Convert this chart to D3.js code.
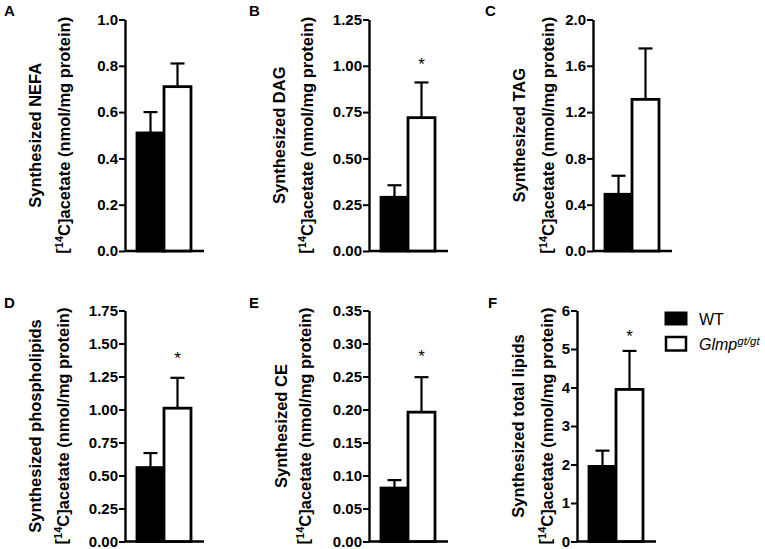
<!DOCTYPE html>
<html>
<head>
  <script src="https://d3js.org/d3.v7.min.js"></script>
  <style>
    body { margin: 0; background: #fff; }
    text { font-family: "Liberation Sans", Arial, sans-serif; }
  </style>
</head>
<body>
<div id="chart"></div>
<script>
  // values
  const panelLetters = ["A", "B", "C", "D", "E", "F"];
  const titles = ["Synthesized NEFA", "Synthesized DAG", "Synthesized TAG",
                  "Synthesized phospholipids", "Synthesized CE", "Synthesized total lipids"];
  const groups = ["WT", "Glmp"];
  const wtMean = [0.51, 0.29, 0.49, 0.56, 0.081, 1.95];
  const wtSem  = [0.09, 0.065, 0.16, 0.11, 0.012, 0.41];
  const koMean = [0.71, 0.72, 1.31, 1.01, 0.196, 3.95];
  const koSem  = [0.10, 0.19, 0.44, 0.23, 0.053, 1.0];
  const yMax = [1.0, 1.25, 2.0, 1.75, 0.35, 6];
  const tickStep = [0.2, 0.25, 0.4, 0.25, 0.05, 1];
  const tickFormat = [".1f", ".2f", ".1f", ".2f", ".2f", "d"];
  const starAt = [null, 1.03, null, 1.42, 0.287, 5.43];

  // layout of each panel (pixels)
  const layout = [
    { ax: 125, top: 19.5, bottom: 251, letterX: 4, l1: 35, l2: 62 },
    { ax: 369, top: 19.5, bottom: 251, letterX: 249, l1: 279, l2: 305 },
    { ax: 593, top: 19.5, bottom: 251, letterX: 485, l1: 519, l2: 546 },
    { ax: 125, top: 310.5, bottom: 541.5, letterX: 4, l1: 35, l2: 61 },
    { ax: 369, top: 310.5, bottom: 541.5, letterX: 249, l1: 281, l2: 303 },
    { ax: 577, top: 310.5, bottom: 541.5, letterX: 488, l1: 518, l2: 545 }
  ];

  const width = 765, height = 549;
  const svg = d3.select("#chart").append("svg")
    .attr("width", width).attr("height", height);

  panelLetters.forEach((letter, i) => {
    const L = layout[i];
    const g = svg.append("g").attr("transform", `translate(${L.ax},0)`);

    const y = d3.scaleLinear().domain([0, yMax[i]]).range([L.bottom, L.top]);
    const x = d3.scaleBand().domain(groups).range([12, 66]).padding(0);

    const ticks = d3.range(0, yMax[i] + tickStep[i] / 2, tickStep[i]);
    const yAxis = d3.axisLeft(y).tickValues(ticks).tickFormat(d3.format(tickFormat[i]))
      .tickSize(6).tickPadding(1).tickSizeOuter(0);
    const ag = g.append("g").call(yAxis);
    ag.select(".domain").attr("stroke-width", 2.4).attr("stroke", "#000");
    ag.selectAll(".tick line").attr("stroke-width", 2).attr("stroke", "#000");
    ag.selectAll(".tick text").attr("font-size", "15px").attr("font-weight", "bold")
      .attr("fill", "#000").attr("font-family", "'Liberation Sans', Arial, sans-serif");

    // x axis line
    g.append("line").attr("x1", 0).attr("x2", 79)
      .attr("y1", L.bottom).attr("y2", L.bottom)
      .attr("stroke", "#000").attr("stroke-width", 2.4);

    const rows = [
      { grp: "WT", mean: wtMean[i], sem: wtSem[i], fill: "#000" },
      { grp: "Glmp", mean: koMean[i], sem: koSem[i], fill: "#fff" }
    ];

    // error bars (upper only)
    rows.forEach(r => {
      const cx = x(r.grp) + x.bandwidth() / 2;
      g.append("line").attr("x1", cx).attr("x2", cx)
        .attr("y1", y(r.mean)).attr("y2", y(r.mean + r.sem))
        .attr("stroke", "#000").attr("stroke-width", 2.2);
      g.append("line").attr("x1", cx - 7).attr("x2", cx + 7)
        .attr("y1", y(r.mean + r.sem)).attr("y2", y(r.mean + r.sem))
        .attr("stroke", "#000").attr("stroke-width", 2.2);
    });

    g.selectAll("rect.bar").data(rows).enter().append("rect")
      .attr("class", "bar")
      .attr("x", d => x(d.grp))
      .attr("y", d => y(d.mean))
      .attr("width", x.bandwidth())
      .attr("height", d => y(0) - y(d.mean))
      .attr("fill", d => d.fill)
      .attr("stroke", "#000").attr("stroke-width", 2.8);

    if (starAt[i] !== null) {
      g.append("text")
        .attr("x", x("Glmp") + x.bandwidth() / 2)
        .attr("y", y(starAt[i]) + 9.5)
        .attr("text-anchor", "middle")
        .attr("font-size", "17px")
        .text("*");
    }

    // y labels
    const cy = (L.top + L.bottom) / 2;
    svg.append("text")
      .attr("transform", `translate(${L.l1},${cy}) rotate(-90)`)
      .attr("text-anchor", "middle").attr("dy", "0.35em")
      .attr("font-size", "16.5px").attr("font-weight", "bold")
      .text(titles[i]);
    const t2 = svg.append("text")
      .attr("transform", `translate(${L.l2},${cy}) rotate(-90)`)
      .attr("text-anchor", "middle").attr("dy", "0.35em")
      .attr("font-size", "16.5px").attr("font-weight", "bold");
    t2.append("tspan").text("[");
    t2.append("tspan").attr("dy", "-0.4em").attr("font-size", "11px").text("14");
    t2.append("tspan").attr("dy", "0.4em").text("C]acetate (nmol/mg protein)");

    svg.append("text")
      .attr("x", L.letterX).attr("y", L.top - 19.5 + 16 + (i > 2 ? 1 : 0))
      .attr("font-size", "15px").attr("font-weight", "bold")
      .text(letter);
  });

  // legend
  const lg = svg.append("g");
  lg.append("rect").attr("x", 665).attr("y", 312).attr("width", 22).attr("height", 13)
    .attr("fill", "#000").attr("stroke", "#000").attr("stroke-width", 1);
  lg.append("rect").attr("x", 666).attr("y", 337).attr("width", 20).attr("height", 13.5)
    .attr("fill", "#fff").attr("stroke", "#000").attr("stroke-width", 2.5);
  lg.append("text").attr("x", 699).attr("y", 324.5).attr("font-size", "16px").text("WT");
  const gl = lg.append("text").attr("x", 699).attr("y", 350).attr("font-size", "16px");
  gl.append("tspan").attr("font-style", "italic").text("Glmp");
  gl.append("tspan").attr("font-style", "italic").attr("dy", "-0.45em").attr("font-size", "11.5px").text("gt/gt");
</script>
</body>
</html>
